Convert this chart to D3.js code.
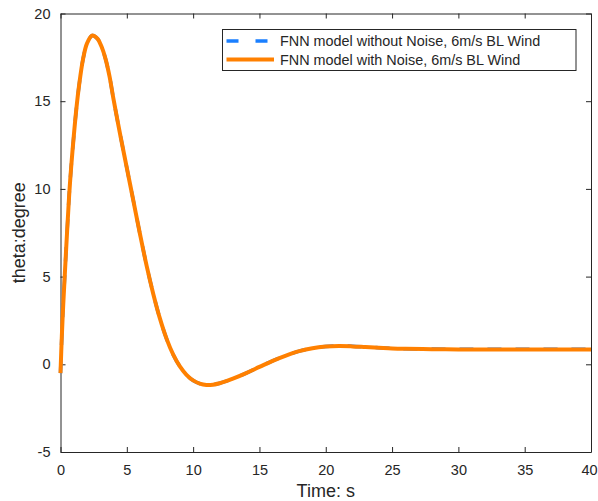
<!DOCTYPE html>
<meta charset="utf-8">
<script src="https://d3js.org/d3.v7.min.js"></script>
<style>
  body { margin: 0; background: #fff; }
  text { font-family: "Liberation Sans", Arial, Helvetica, sans-serif; fill: #262626; }
</style>
<div id="chart"></div>
<script>

// time samples (s)
var time = [0, 0.1, 0.2, 0.33, 0.5, 0.65, 0.8, 1.0, 1.2, 1.4, 1.7, 2.0, 2.4, 2.8, 3.1, 3.4, 3.7, 4.0,
  4.5, 5.0, 5.5, 6.0, 6.5, 7.0, 7.5, 8.0, 8.5, 9.0, 9.5, 10.0, 10.5, 11.0, 11.5, 12.0, 12.5, 13.0,
  14.0, 15.0, 16.0, 17.0, 18.0, 19.0, 20.0, 21.0, 22.0, 23.0, 24.0, 25.0, 26.0, 28.0, 30.0, 32.0,
  35.0, 38.0, 40.0];

// theta (degree), FNN model with noise
var withNoise = [-0.5, 1.6, 3.3, 5.2, 7.6, 9.6, 11.2, 13.0, 14.6, 15.9, 17.4, 18.3, 18.75, 18.55, 18.1, 17.4, 16.4, 15.1,
  13.1, 11.2, 9.3, 7.4, 5.6, 4.0, 2.6, 1.45, 0.55, -0.12, -0.6, -0.92, -1.1, -1.18, -1.16, -1.08, -0.96, -0.82,
  -0.5, -0.15, 0.2, 0.5, 0.75, 0.92, 1.01, 1.04, 1.02, 0.98, 0.94, 0.9, 0.88, 0.86, 0.85, 0.84,
  0.85, 0.85, 0.85];

// theta (degree), FNN model without noise
var withoutNoise = [-0.5, 1.6, 3.3, 5.2, 7.6, 9.6, 11.2, 13.0, 14.6, 15.9, 17.4, 18.3, 18.75, 18.55, 18.1, 17.4, 16.4, 15.1,
  13.1, 11.2, 9.3, 7.4, 5.6, 4.0, 2.6, 1.45, 0.55, -0.12, -0.6, -0.92, -1.1, -1.18, -1.16, -1.08, -0.96, -0.82,
  -0.5, -0.15, 0.2, 0.5, 0.75, 0.92, 1.01, 1.05, 1.03, 0.99, 0.95, 0.91, 0.89, 0.87, 0.86, 0.86,
  0.86, 0.86, 0.86];

var xTicks = [0, 5, 10, 15, 20, 25, 30, 35, 40];
var yTicks = [-5, 0, 5, 10, 15, 20];
var legendLabels = ["FNN model without Noise, 6m/s BL Wind", "FNN model with Noise, 6m/s BL Wind"];

var W = 598, H = 501;
var margin = {top: 13.5, right: 7, bottom: 49, left: 60.5};
var width = W - margin.left - margin.right,
    height = H - margin.top - margin.bottom;

var svg = d3.select("#chart").append("svg")
    .attr("width", W)
    .attr("height", H);

var g = svg.append("g")
    .attr("transform", "translate(" + margin.left + "," + margin.top + ")");

var x = d3.scaleLinear().domain([0, 40]).range([0, width]);
var y = d3.scaleLinear().domain([-5, 20]).range([height, 0]);

var fmt = function(d) { return String(d); };   // plain hyphen minus like matlab

// axes on all four sides, ticks inward
function styleAxis(sel) {
  sel.select(".domain").attr("stroke", "#262626");
  sel.selectAll(".tick line").attr("stroke", "#262626");
  sel.selectAll("text").style("font-size", "14.5px").attr("fill", "#262626")
    .style("font-family", "'Liberation Sans', Arial, sans-serif");
}

var xAxisG = g.append("g")
  .attr("transform", "translate(0," + height + ")")
  .call(d3.axisBottom(x).tickValues(xTicks).tickFormat(fmt).tickSizeInner(-5).tickSizeOuter(0).tickPadding(13))
  .call(styleAxis);
// keep last label inside the window
xAxisG.selectAll(".tick text").filter(function(d) { return d === 40; }).attr("dx", "-2");

g.append("g")
  .call(d3.axisTop(x).tickValues(xTicks).tickSizeInner(-5).tickSizeOuter(0).tickFormat(""))
  .call(styleAxis);
g.append("g")
  .call(d3.axisLeft(y).tickValues(yTicks).tickFormat(fmt).tickSizeInner(-5).tickSizeOuter(0).tickPadding(10))
  .call(styleAxis);
g.append("g")
  .attr("transform", "translate(" + width + ",0)")
  .call(d3.axisRight(y).tickValues(yTicks).tickSizeInner(-5).tickSizeOuter(0).tickFormat(""))
  .call(styleAxis);

// lines
var line = d3.line()
  .x(function(d) { return x(d[0]); })
  .y(function(d) { return y(d[1]); })
  .curve(d3.curveCatmullRom.alpha(0.5));

g.append("path")
  .datum(d3.zip(time, withoutNoise))
  .attr("fill", "none")
  .attr("stroke", "#1a7fff")
  .attr("stroke-width", 3.5)
  .attr("stroke-dasharray", "14,14")
  .attr("d", line);

g.append("path")
  .datum(d3.zip(time, withNoise))
  .attr("fill", "none")
  .attr("stroke", "#ff8000")
  .attr("stroke-width", 4)
  .attr("d", line);

// axis labels
svg.append("text")
  .attr("x", margin.left + width / 2)
  .attr("y", 497)
  .attr("text-anchor", "middle")
  .style("font-size", "18px")
  .text("Time: s");

svg.append("text")
  .attr("transform", "translate(25," + (margin.top + height / 2) + ") rotate(-90)")
  .attr("text-anchor", "middle")
  .style("font-size", "18px")
  .text("theta:degree");

// legend
var lg = svg.append("g").attr("transform", "translate(222.5,29.5)");
lg.append("rect")
  .attr("width", 353.5)
  .attr("height", 41)
  .attr("fill", "#fff")
  .attr("stroke", "#262626")
  .attr("stroke-width", 1);

var styles = [
  {color: "#1a7fff", dash: "12,17", w: 3.5},
  {color: "#ff8000", dash: null, w: 4}
];
legendLabels.forEach(function(lbl, i) {
  var yy = 11.5 + i * 18.5;
  lg.append("line")
    .attr("x1", 4).attr("x2", 51.5)
    .attr("y1", yy).attr("y2", yy)
    .attr("stroke", styles[i].color)
    .attr("stroke-width", styles[i].w)
    .attr("stroke-dasharray", styles[i].dash);
  lg.append("text")
    .attr("x", 57.5)
    .attr("y", yy)
    .attr("dy", "0.35em")
    .style("font-size", "14.4px")
    .text(lbl);
});

</script>
